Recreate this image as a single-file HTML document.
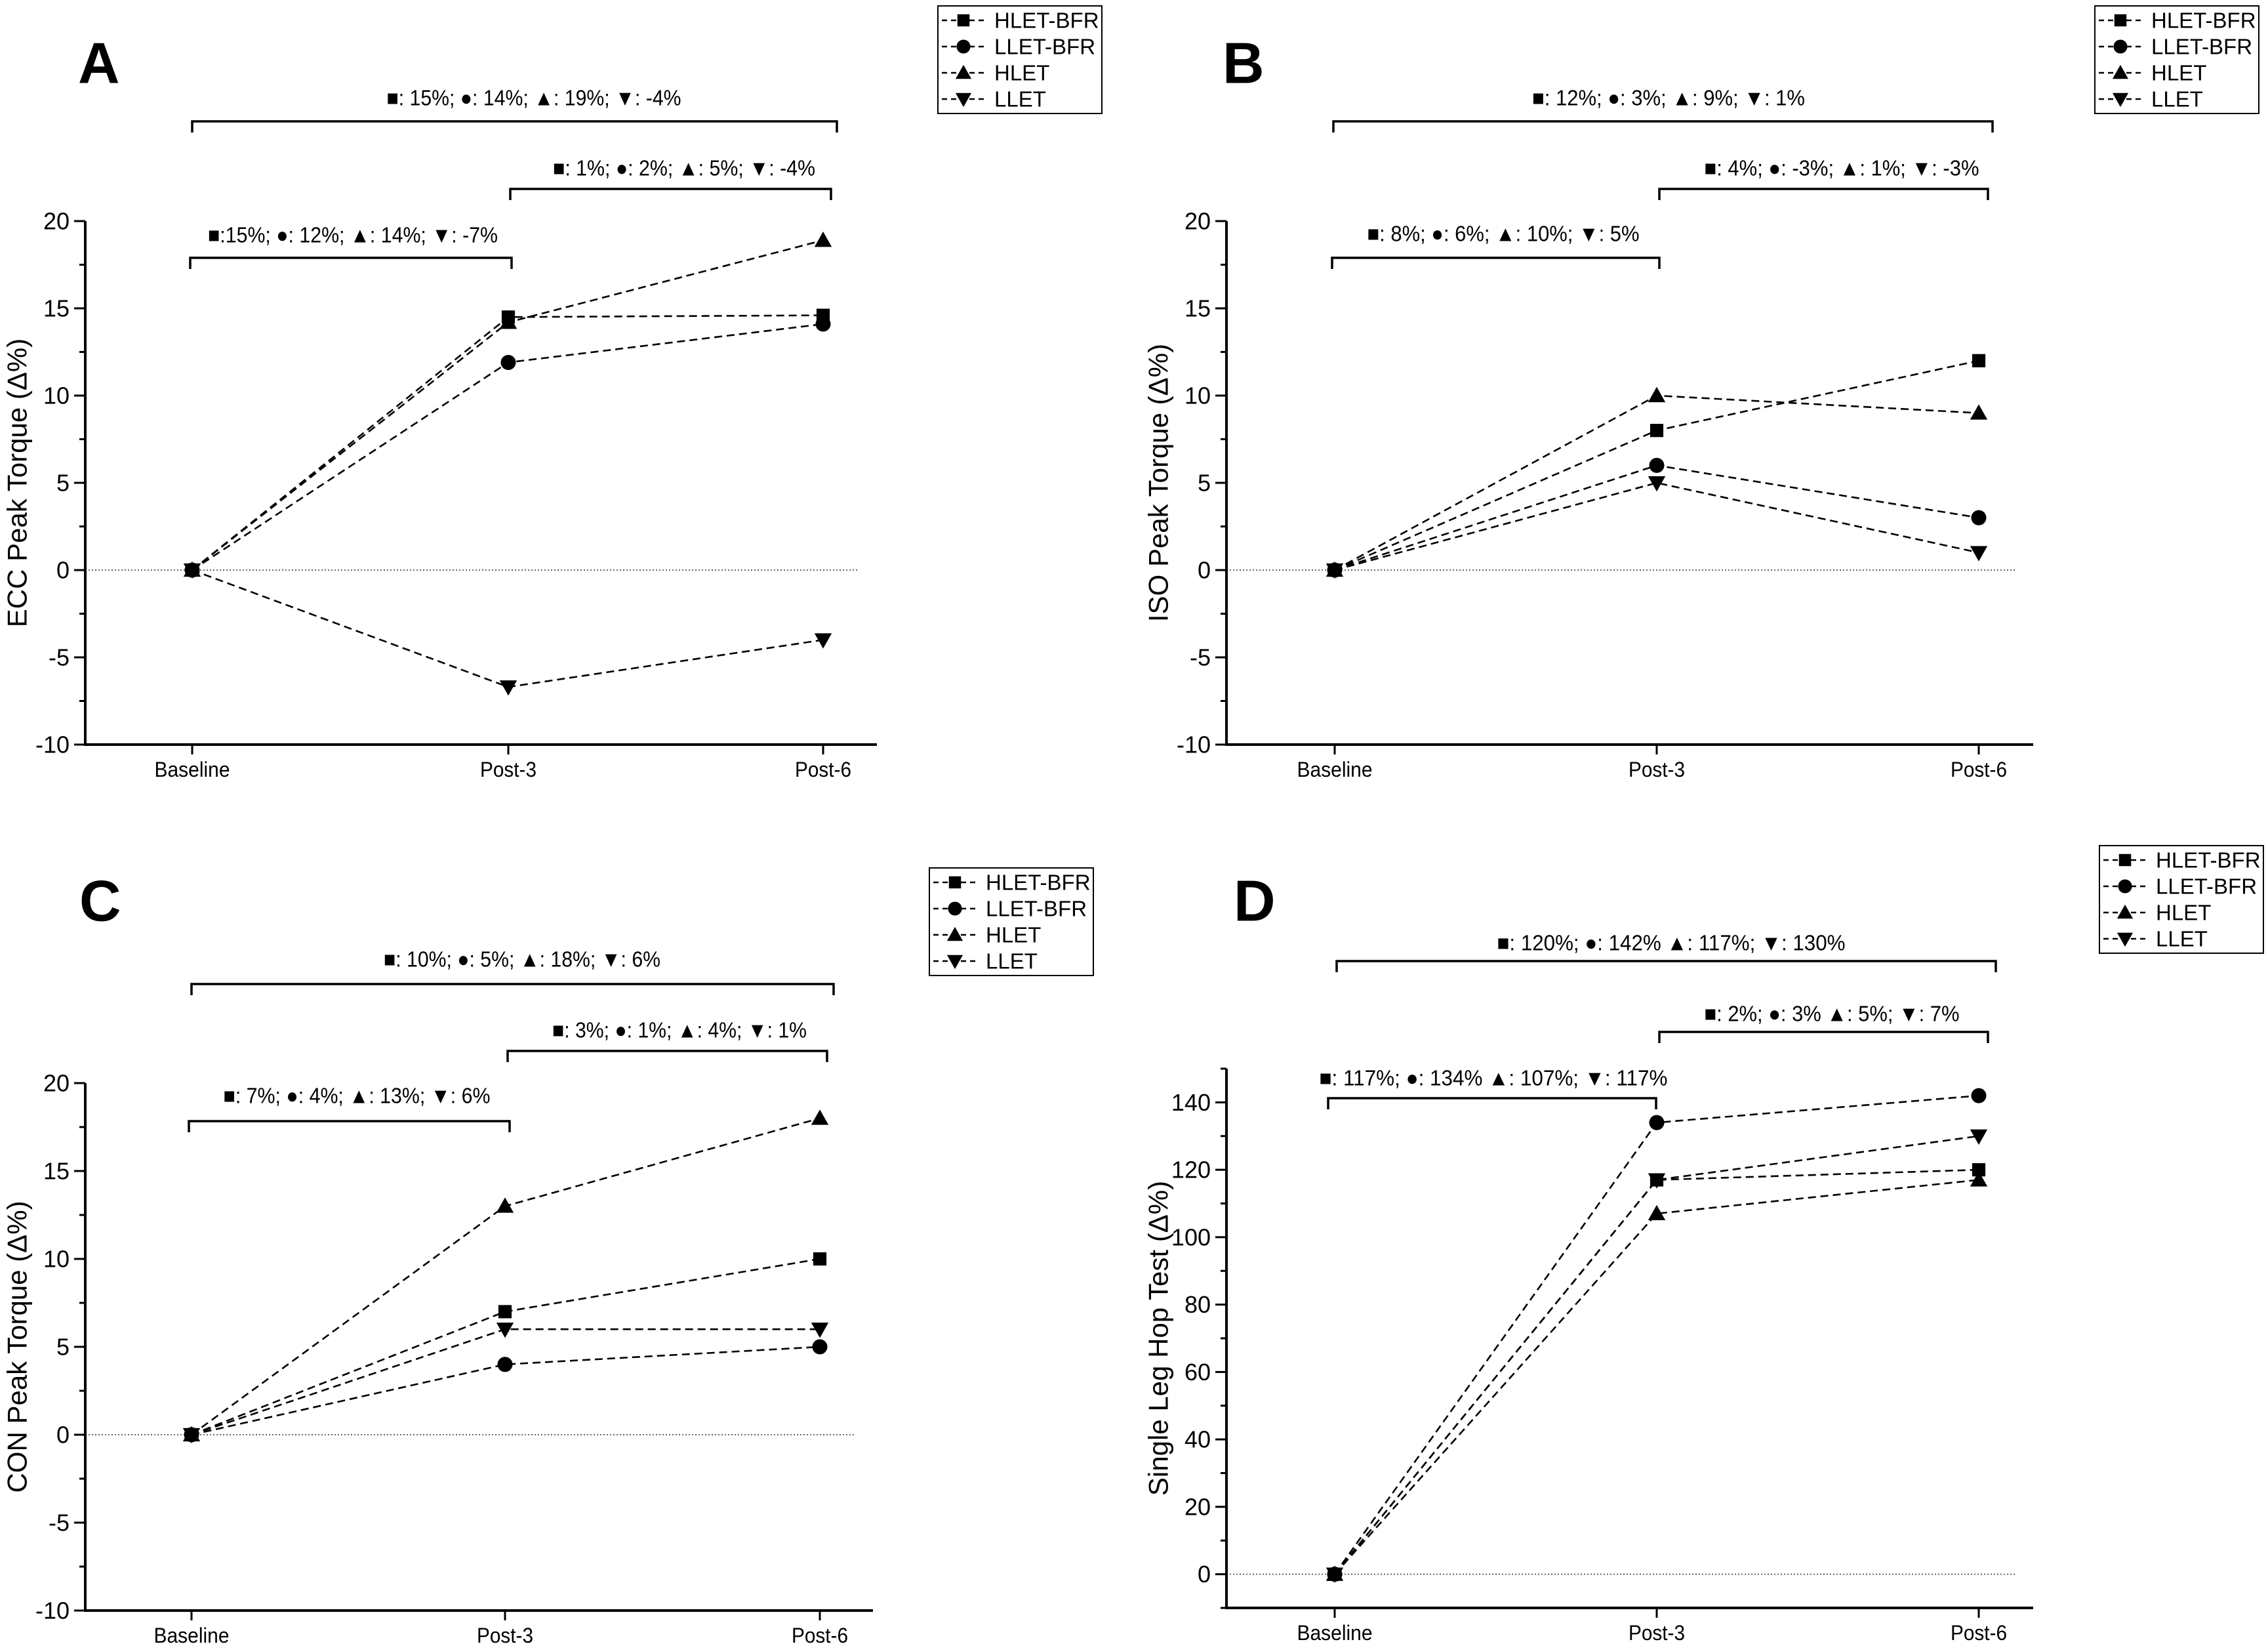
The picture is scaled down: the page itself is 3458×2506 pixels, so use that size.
<!DOCTYPE html>
<html><head><meta charset="utf-8">
<style>
html,body{margin:0;padding:0;background:#fff;}
svg{display:block;font-family:"Liberation Sans",Arial,sans-serif;}
</style></head>
<body>
<svg id="fig" width="3458" height="2506" viewBox="0 0 3458 2506" xmlns="http://www.w3.org/2000/svg"></svg>
<script>
const categories = ["Baseline","Post-3","Post-6"];
const seriesNames = ["HLET-BFR","LLET-BFR","HLET","LLET"];
const seriesMarkers = ["square","circle","triangle","tridown"];

const ecc_hletbfr = [0, 14.5, 14.6];
const ecc_lletbfr = [0, 11.9, 14.1];
const ecc_hlet = [0, 14.2, 18.9];
const ecc_llet = [0, -6.7, -4];

const iso_hletbfr = [0, 8, 12];
const iso_lletbfr = [0, 6, 3];
const iso_hlet = [0, 10, 9];
const iso_llet = [0, 5, 1];

const con_hletbfr = [0, 7, 10];
const con_lletbfr = [0, 4, 5];
const con_hlet = [0, 13, 18];
const con_llet = [0, 6, 6];

const hop_hletbfr = [0, 117, 120];
const hop_lletbfr = [0, 134, 142];
const hop_hlet = [0, 107, 117];
const hop_llet = [0, 117, 130];

const torqueTicks = [-10, -5, 0, 5, 10, 15, 20];
const hopTicks = [0, 20, 40, 60, 80, 100, 120, 140];

const annA = ["■: 15%; ●: 14%; ▲: 19%; ▼: -4%", "■: 1%; ●: 2%; ▲: 5%; ▼: -4%", "■:15%; ●: 12%; ▲: 14%; ▼: -7%"];
const annB = ["■: 12%; ●: 3%; ▲: 9%; ▼: 1%", "■: 4%; ●: -3%; ▲: 1%; ▼: -3%", "■: 8%; ●: 6%; ▲: 10%; ▼: 5%"];
const annC = ["■: 10%; ●: 5%; ▲: 18%; ▼: 6%", "■: 3%; ●: 1%; ▲: 4%; ▼: 1%", "■: 7%; ●: 4%; ▲: 13%; ▼: 6%"];
const annD = ["■: 120%; ●: 142% ▲: 117%; ▼: 130%", "■: 2%; ●: 3% ▲: 5%; ▼: 7%", "■: 117%; ●: 134% ▲: 107%; ▼: 117%"];

const NS = "http://www.w3.org/2000/svg";
const svg = document.getElementById("fig");
function mk(tag, attrs, parent){
  const e = document.createElementNS(NS, tag);
  for (const k in attrs) e.setAttribute(k, attrs[k]);
  (parent||svg).appendChild(e);
  return e;
}
function marker(g, type, x, y, s){
  let e;
  if (type==="square") e = mk("rect",{x:x-s*0.42,y:y-s*0.42,width:s*0.84,height:s*0.84,fill:"#000"},g);
  else if (type==="circle") e = mk("circle",{cx:x,cy:y,r:s*0.48,fill:"#000"},g);
  else if (type==="triangle") e = mk("polygon",{points:`${x},${y-s*0.55} ${x+s*0.55},${y+s*0.42} ${x-s*0.55},${y+s*0.42}`,fill:"#000"},g);
  else e = mk("polygon",{points:`${x},${y+s*0.55} ${x+s*0.55},${y-s*0.42} ${x-s*0.55},${y-s*0.42}`,fill:"#000"},g);
  
  
  return e;
}

function panel(p){
  const g = mk("g",{});
  
  
  const ys = v => p.yPix0 + (v - p.yMin) * (p.yPix1 - p.yPix0) / (p.yMax - p.yMin);
  const xs = i => p.cats[i];

  // panel letter
  const L = mk("text",{x:p.letterX,y:p.letterY,"font-size":88,"font-weight":"bold","dominant-baseline":"central"},g);
  L.textContent = p.letter;
  
  

  // zero line
  const z = mk("line",{x1:p.axisX,x2:p.zeroEnd,y1:ys(0),y2:ys(0),stroke:"#666","stroke-width":2,"stroke-dasharray":"2 3"},g);
  
  

  // axes
  const ya = mk("line",{x1:p.axisX,x2:p.axisX,y1:ys(p.yMin)+2,y2:ys(p.yMax),stroke:"#000","stroke-width":4},g);
  
  
  const xa = mk("line",{x1:p.axisX-2,x2:p.rightEnd,y1:ys(p.yMin),y2:ys(p.yMin),stroke:"#000","stroke-width":4},g);
  
  

  // y ticks
  const step = p.ticks[1]-p.ticks[0];
  for (let v = p.yMin; v <= p.yMax + 1e-9; v += step/2){
    const major = p.ticks.some(t => Math.abs(t - v) < 1e-9);
    const t = mk("line",{x1:p.axisX-(major?17:9),x2:p.axisX,y1:ys(v),y2:ys(v),stroke:"#000","stroke-width":3},g);
    
    
  }
  p.ticks.forEach(v => {
    const t = mk("text",{x:p.axisX-24,y:ys(v),"font-size":36,"text-anchor":"end","dominant-baseline":"central"},g);
    t.textContent = v;
    
    
  });
  // x ticks & labels
  categories.forEach((c,i) => {
    const t = mk("line",{x1:xs(i),x2:xs(i),y1:ys(p.yMin),y2:ys(p.yMin)+15,stroke:"#000","stroke-width":3},g);
    
    
    const lbl = mk("text",{x:xs(i),y:ys(p.yMin)+38,"font-size":32,"text-anchor":"middle","dominant-baseline":"central",textLength:(c==="Baseline"?115:(c==="Post-3"?86:86)),lengthAdjust:"spacingAndGlyphs"},g);
    lbl.textContent = c;
    
    
  });
  // y title
  const yt = mk("text",{x:0,y:0,"font-size":42,"text-anchor":"middle","dominant-baseline":"central",transform:`translate(${p.axisX-104},${(ys(p.yMin)+ys(p.yMax))/2}) rotate(-90)`},g);
  yt.textContent = p.title;
  
  

  // brackets
  p.brackets.forEach((b,k) => {
    const br = mk("path",{d:`M${b.x1},${b.y+17} V${b.y} H${b.x2} V${b.y+17}`,fill:"none",stroke:"#000","stroke-width":3.5},g);
    
    
    const tx = mk("text",{x:b.tx,y:b.ty,"font-size":33,"text-anchor":"middle","dominant-baseline":"central",textLength:b.tw,lengthAdjust:"spacingAndGlyphs"},g);
    tx.textContent = p.ann[k];
    
    
  });

  // series
  p.series.forEach((vals,si) => {
    const sg = mk("g",{},g);
    
    
    const d = vals.map((v,i)=>(i?"L":"M")+xs(i)+","+ys(v)).join(" ");
    const pl = mk("path",{d:d,fill:"none",stroke:"#000","stroke-width":2.6,"stroke-dasharray":"12 7"},sg);
    
    
    vals.forEach((v,i)=>marker(sg, seriesMarkers[si], xs(i), ys(v), 24));
  });

  // legend
  const lg = mk("g",{},g);
  
  
  const lb = mk("rect",{x:p.leg.x,y:p.leg.y,width:250,height:164,fill:"#fff",stroke:"#000","stroke-width":2},lg);
  
  
  seriesNames.forEach((n,i) => {
    const ey = p.leg.y + 22 + i*40;
    const eg = mk("g",{},lg);
    
    
    mk("line",{x1:p.leg.x+6,x2:p.leg.x+72,y1:ey,y2:ey,stroke:"#000","stroke-width":2.4,"stroke-dasharray":"8 6"},eg);
    marker(eg, seriesMarkers[i], p.leg.x+39, ey, 22);
    const t = mk("text",{x:p.leg.x+86,y:ey,"font-size":33,"dominant-baseline":"central"},eg);
    t.textContent = n;
    
    
  });
}

panel({letter:"A",letterX:119,letterY:96,title:"ECC Peak Torque (Δ%)",axisX:130,rightEnd:1337,zeroEnd:1309,
  yMin:-10,yMax:20,yPix0:1135,yPix1:337,ticks:torqueTicks,cats:[293,775,1255],
  series:[ecc_hletbfr,ecc_lletbfr,ecc_hlet,ecc_llet],ann:annA,leg:{x:1430,y:9},
  brackets:[{x1:293,x2:1276,y:185,tx:814,ty:149,tw:449},{x1:778,x2:1267,y:288,tx:1043,ty:256,tw:400},{x1:290,x2:780,y:393,tx:538,ty:358,tw:442}]});
panel({letter:"B",letterX:1864,letterY:96,title:"ISO Peak Torque (Δ%)",axisX:1870,rightEnd:3100,zeroEnd:3075,
  yMin:-10,yMax:20,yPix0:1135,yPix1:337,ticks:torqueTicks,cats:[2035,2526,3017],
  series:[iso_hletbfr,iso_lletbfr,iso_hlet,iso_llet],ann:annB,leg:{x:3194,y:9},
  brackets:[{x1:2033,x2:3038,y:185,tx:2544,ty:149,tw:416},{x1:2530,x2:3031,y:288,tx:2808,ty:256,tw:419},{x1:2031,x2:2530,y:393,tx:2292,ty:356,tw:415}]});
panel({letter:"C",letterX:121,letterY:1373,title:"CON Peak Torque (Δ%)",axisX:130,rightEnd:1331,zeroEnd:1305,
  yMin:-10,yMax:20,yPix0:2455,yPix1:1651,ticks:torqueTicks,cats:[292,770,1250],
  series:[con_hletbfr,con_lletbfr,con_hlet,con_llet],ann:annC,leg:{x:1417,y:1323},
  brackets:[{x1:292,x2:1271,y:1500,tx:796,ty:1462,tw:422},{x1:774,x2:1261,y:1602,tx:1036,ty:1570,tw:388},{x1:288,x2:777,y:1709,tx:544,ty:1670,tw:407}]});
panel({letter:"D",letterX:1881,letterY:1373,title:"Single Leg Hop Test (Δ%)",axisX:1870,rightEnd:3100,zeroEnd:3072,
  yMin:-10,yMax:150,yPix0:2451,yPix1:1629,ticks:hopTicks,cats:[2035,2526,3017],
  series:[hop_hletbfr,hop_lletbfr,hop_hlet,hop_llet],ann:annD,leg:{x:3201,y:1289},
  brackets:[{x1:2038,x2:3043,y:1465,tx:2548,ty:1437,tw:531},{x1:2530,x2:3031,y:1573,tx:2793,ty:1545,tw:389},{x1:2025,x2:2525,y:1674,tx:2277,ty:1643,tw:531}]});
</script>
</body></html>
